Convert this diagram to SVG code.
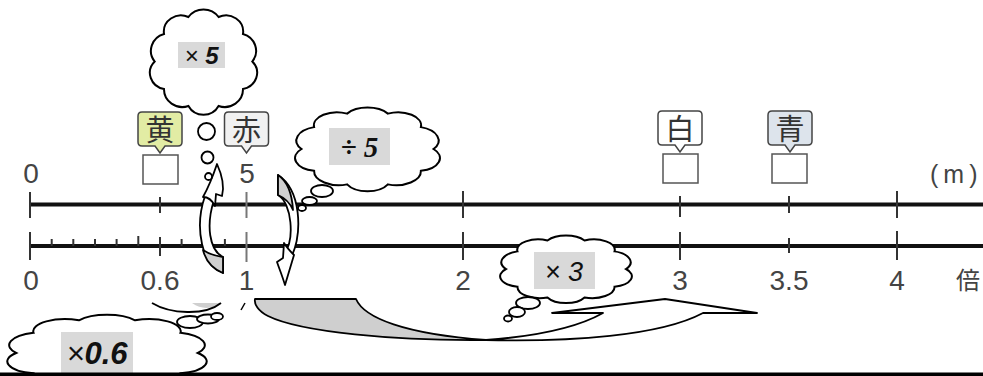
<svg xmlns="http://www.w3.org/2000/svg" width="983" height="376" viewBox="0 0 983 376">
<style>
.axis{stroke:#111;stroke-width:4;fill:none}
.tick{stroke:#333;stroke-width:2}
.tick1{stroke:#777;stroke-width:2}
.num{font-family:"Liberation Sans",Arial,sans-serif;font-size:28px;fill:#444;text-anchor:middle}
.cjk{font-family:"Noto Sans CJK JP","Noto Sans CJK SC",sans-serif;font-size:29px;fill:#333;text-anchor:middle}
.callout{stroke:#444;stroke-width:1.5}
.sq{fill:#fff;stroke:#555;stroke-width:1.5}
.cloud{fill:#fff;stroke:#000;stroke-width:2}
.bub{fill:#fff;stroke:#000;stroke-width:1.8}
.lbl{fill:#d9d9d9}
.op{font-family:"Liberation Sans",Arial,sans-serif;font-style:italic;fill:#111;text-anchor:middle}
.arr{fill:#fff;stroke:#000;stroke-width:1.8;stroke-linejoin:round}
.arrg{fill:#cfcfcf;stroke:#000;stroke-width:1.8;stroke-linejoin:round}
</style>
<defs>
<path id="cloudShape" vector-effect="non-scaling-stroke" d="M40,0 A14,14 0 0 1 32.36,23.51 A15,15 0 0 1 12.36,38.04 A14,14 0 0 1 -12.36,38.04 A15,15 0 0 1 -32.36,23.51 A14,14 0 0 1 -40,0 A15,15 0 0 1 -32.36,-23.51 A14,14 0 0 1 -12.36,-38.04 A15,15 0 0 1 12.36,-38.04 A14,14 0 0 1 32.36,-23.51 A15,15 0 0 1 40,0 Z"/>
<path id="calloutShape" d="M4,0 H40 Q44,0 44,4 V30 Q44,34 40,34 H27 L22,41 L17,34 H4 Q0,34 0,30 V4 Q0,0 4,0 Z"/>
</defs>
<rect width="983" height="376" fill="#fff"/>

<g id="axis-m">
<line class="axis" x1="30" y1="204.5" x2="983" y2="204.5"/>
<line class="tick" x1="30" y1="192" x2="30" y2="218"/>
<line class="tick" x1="160" y1="197" x2="160" y2="213"/>
<line class="tick1" x1="246.5" y1="192" x2="246.5" y2="218"/>
<line class="tick" x1="463" y1="191" x2="463" y2="218"/>
<line class="tick" x1="680" y1="196" x2="680" y2="217"/>
<line class="tick" x1="789" y1="196" x2="789" y2="213"/>
<line class="tick" x1="897" y1="191" x2="897" y2="218"/>
<text class="num" x="31" y="183">0</text>
<text class="num" x="247" y="183">5</text>
<text x="930" y="183" font-family="Liberation Sans, Arial, sans-serif" font-size="25" fill="#444" letter-spacing="5">(m)</text>
</g>

<g id="axis-times">
<line class="axis" x1="30" y1="246" x2="983" y2="246"/>
<line class="tick" x1="30" y1="232" x2="30" y2="260"/>
<g class="tick">
<line x1="51.7" y1="239" x2="51.7" y2="246"/>
<line x1="73.3" y1="239" x2="73.3" y2="246"/>
<line x1="95" y1="239" x2="95" y2="246"/>
<line x1="116.6" y1="239" x2="116.6" y2="246"/>
<line x1="138.3" y1="236" x2="138.3" y2="246"/>
<line x1="181.6" y1="239" x2="181.6" y2="246"/>
<line x1="203.2" y1="239" x2="203.2" y2="246"/>
<line x1="224.9" y1="239" x2="224.9" y2="246"/>
</g>
<line class="tick" x1="160" y1="237" x2="160" y2="256"/>
<line class="tick1" x1="246.5" y1="232" x2="246.5" y2="262"/>
<line class="tick" x1="463" y1="232" x2="463" y2="260"/>
<line class="tick" x1="680" y1="232" x2="680" y2="260"/>
<line class="tick" x1="789" y1="238" x2="789" y2="253"/>
<line class="tick" x1="897" y1="231" x2="897" y2="260"/>
<text class="num" x="31" y="290">0</text>
<text class="num" x="160" y="290">0.6</text>
<text class="num" x="246.5" y="290">1</text>
<text class="num" x="463" y="290">2</text>
<text class="num" x="680" y="290">3</text>
<text class="num" x="789" y="290">3.5</text>
<text class="num" x="897" y="290">4</text>
<text x="968" y="289" font-family="Noto Sans CJK JP, sans-serif" font-size="24" fill="#444" text-anchor="middle">倍</text>
</g>

<g id="node-ki">
<use href="#calloutShape" x="138" y="112" class="callout" fill="#e2eca4"/>
<text class="cjk" x="160" y="140.5">黄</text>
<rect class="sq" x="143" y="155" width="35" height="29"/>
</g>
<g id="node-aka">
<use href="#calloutShape" x="224.5" y="112" class="callout" fill="#f1f1f1"/>
<text class="cjk" x="246.5" y="140.5">赤</text>
</g>
<g id="node-shiro">
<use href="#calloutShape" x="658" y="111" class="callout" fill="#fff"/>
<text class="cjk" x="680" y="139.5">白</text>
<rect class="sq" x="663" y="154" width="35" height="29"/>
</g>
<g id="node-ao">
<use href="#calloutShape" x="768" y="111" class="callout" fill="#dde4ec"/>
<text class="cjk" x="790" y="139.5">青</text>
<rect class="sq" x="772" y="154" width="35" height="29"/>
</g>

<g id="connectors">
<g id="arrow-up-x5">
<path class="arr" d="M223,273 C202,266 194,228 205,196 L214,200 C206,225 209,250 223,257 Z"/>
<path class="arrg" d="M223,257 L223,273 C213,269 206,262 203,250 C209,254 216,256 223,257 Z"/>
<path class="arr" d="M217,164 C222,175 225,185 222,196 L216,194 L215,206 C212,200 208,197 203,197 C208,188 213,176 217,164 Z"/>
</g>
<g id="arrow-down-div5">
<path class="arr" d="M278,195 C292,203 295,240 284,254 L291,258 C303,232 301,190 278,175 Z"/>
<path class="arrg" d="M278,175 L278,195 C285,198 290,203 293,210 C292,193 287,181 278,175 Z"/>
<path class="arr" d="M285,285 C282,275 279,268 277,262 L283,258 L284,243 C287,248 291,252 294,255 C291,265 288,275 285,285 Z"/>
</g>
<g id="arrow-x06">
<path fill="#cfcfcf" d="M192,303 H221 C212,309 202,310 192,303 Z"/>
<path fill="none" stroke="#000" stroke-width="1.8" d="M152,303 C170,314 205,316 221,303"/>
<path fill="none" stroke="#000" stroke-width="1.5" d="M241,310 L245,303"/>
</g>
<g id="arrow-x3">
<path class="arrg" d="M255,299 H356 C364,318 405,334 486,340 C395,341 300,332 268,316 C258,311 254,304 255,299 Z"/>
<path class="arr" d="M486,340 C570,342 660,336 703,313 L757,313 L665,299 L552,313 L603,313 C580,326 540,336 486,340 Z"/>
</g>
</g>

<g id="cloud-x5">
<use href="#cloudShape" class="cloud" transform="translate(203.5,61.5) scale(1.22,1.17)"/>
<rect class="lbl" x="178" y="42" width="47" height="26"/>
<text class="op" x="201.5" y="64" font-size="24"><tspan font-weight="normal">×</tspan> <tspan font-weight="bold">5</tspan></text>
<circle class="bub" cx="206.5" cy="131.5" r="8.5"/>
<circle class="bub" cx="207.5" cy="157.5" r="6"/>
<circle class="bub" cx="208.5" cy="176.5" r="3.5"/>
</g>

<g id="cloud-div5">
<use href="#cloudShape" class="cloud" transform="translate(367.5,149) scale(1.65,0.93)"/>
<rect class="lbl" x="329" y="128" width="61" height="37"/>
<text x="359.5" y="157" font-family="Liberation Serif, serif" font-style="italic" font-weight="bold" font-size="29" fill="#111" text-anchor="middle">÷ 5</text>
<ellipse class="bub" cx="322" cy="191" rx="11" ry="6"/>
<ellipse class="bub" cx="309.5" cy="201" rx="7.5" ry="4"/>
<ellipse class="bub" cx="302" cy="208" rx="4" ry="3"/>
</g>

<g id="cloud-x3">
<use href="#cloudShape" class="cloud" transform="translate(566,269) scale(1.5,0.75)"/>
<rect class="lbl" x="534" y="252" width="61" height="37"/>
<text class="op" x="564" y="281" font-size="27">× 3</text>
<ellipse class="bub" cx="528" cy="303" rx="12" ry="6"/>
<ellipse class="bub" cx="517" cy="312" rx="8" ry="5"/>
<ellipse class="bub" cx="508" cy="318.5" rx="4" ry="3"/>
</g>

<g id="cloud-x06">
<use href="#cloudShape" class="cloud" transform="translate(107,353) scale(2.27,0.86)"/>
<rect class="lbl" x="61" y="332" width="72" height="41"/>
<text class="op" x="97" y="364" font-size="31"><tspan font-weight="normal">×</tspan><tspan font-weight="bold">0.6</tspan></text>
<ellipse class="bub" cx="190" cy="322" rx="13" ry="6"/>
<ellipse class="bub" cx="208" cy="319" rx="11" ry="4.5"/>
<ellipse class="bub" cx="217" cy="316.5" rx="6" ry="3.5"/>
</g>

<rect x="0" y="372.5" width="983" height="3.5" fill="#000"/>
</svg>
